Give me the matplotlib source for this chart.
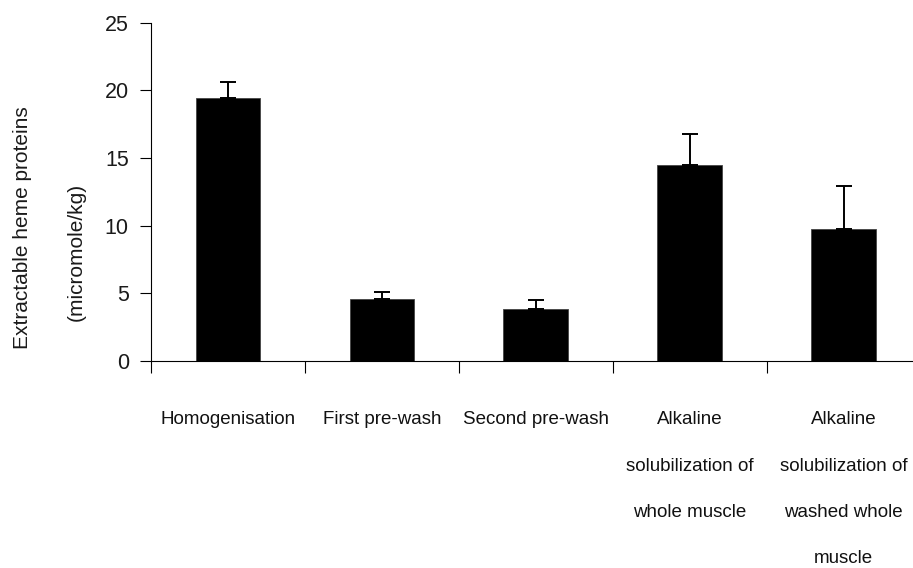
import matplotlib
matplotlib.use("Agg")
import matplotlib.pyplot as plt

categories = ["Homogenisation", "First pre-wash", "Second pre-wash",
              "Alkaline\nsolubilization of\nwhole muscle",
              "Alkaline\nsolubilization of\nwashed whole\nmuscle"]
values = [19.43, 4.53, 3.79, 14.47, 9.71]
errors = [1.17, 0.53, 0.68, 2.30, 3.21]
yticks = [0, 5, 10, 15, 20, 25]
ylabel_lines = ["Extractable heme proteins", "(micromole/kg)"]

plt.rcParams["font.family"] = ["Liberation Sans", "DejaVu Sans"]

W, H = 913, 568
fig = plt.figure(figsize=(W / 100, H / 100), dpi=100)
left, right = 151 / W, 920.5 / W
bottom, top = 1 - 360.7 / H, 1 - 22.7 / H
ax = fig.add_axes([left, bottom, right - left, top - bottom])

x = list(range(len(categories)))
ax.bar(x, values, width=0.42, color="black", edgecolor="#444444", linewidth=0.6, zorder=2)
ax.errorbar(x, values, yerr=[[0] * len(errors), errors], fmt="none", ecolor="black",
            elinewidth=1.4, capsize=6, capthick=1.4, zorder=3)

ax.set_xlim(-0.5, len(categories) - 0.5)
ax.set_ylim(0, 25)
ax.set_yticks(yticks)
ax.set_yticklabels([str(t) for t in yticks], fontsize=15.5, color="#1a1a1a")
ax.tick_params(axis="y", direction="out", length=8, width=0.8, pad=8)
ax.set_xticks([i - 0.5 for i in range(len(categories) + 1)])
ax.set_xticklabels([])
ax.tick_params(axis="x", direction="out", length=8.5, width=0.8)
for s in ["top", "right"]:
    ax.spines[s].set_visible(False)
for s in ["left", "bottom"]:
    ax.spines[s].set_linewidth(0.8)

for i, c in enumerate(categories):
    for j, line in enumerate(c.split("\n")):
        ax.annotate(line, xy=(i, 0), xycoords=("data", "axes fraction"),
                    xytext=(0, -(420 - 360.7) - j * 46.3), textcoords="offset pixels",
                    ha="center", va="center", fontsize=13.5, color="#111111")

fig.text(23 / W, 1 - 228 / H, ylabel_lines[0], rotation=90,
         ha="center", va="center", fontsize=15, color="#1a1a1a")
fig.text(76 / W, 1 - 252 / H, ylabel_lines[1], rotation=90,
         ha="center", va="center", fontsize=15, color="#1a1a1a")

fig.savefig("out.png", dpi=100)
